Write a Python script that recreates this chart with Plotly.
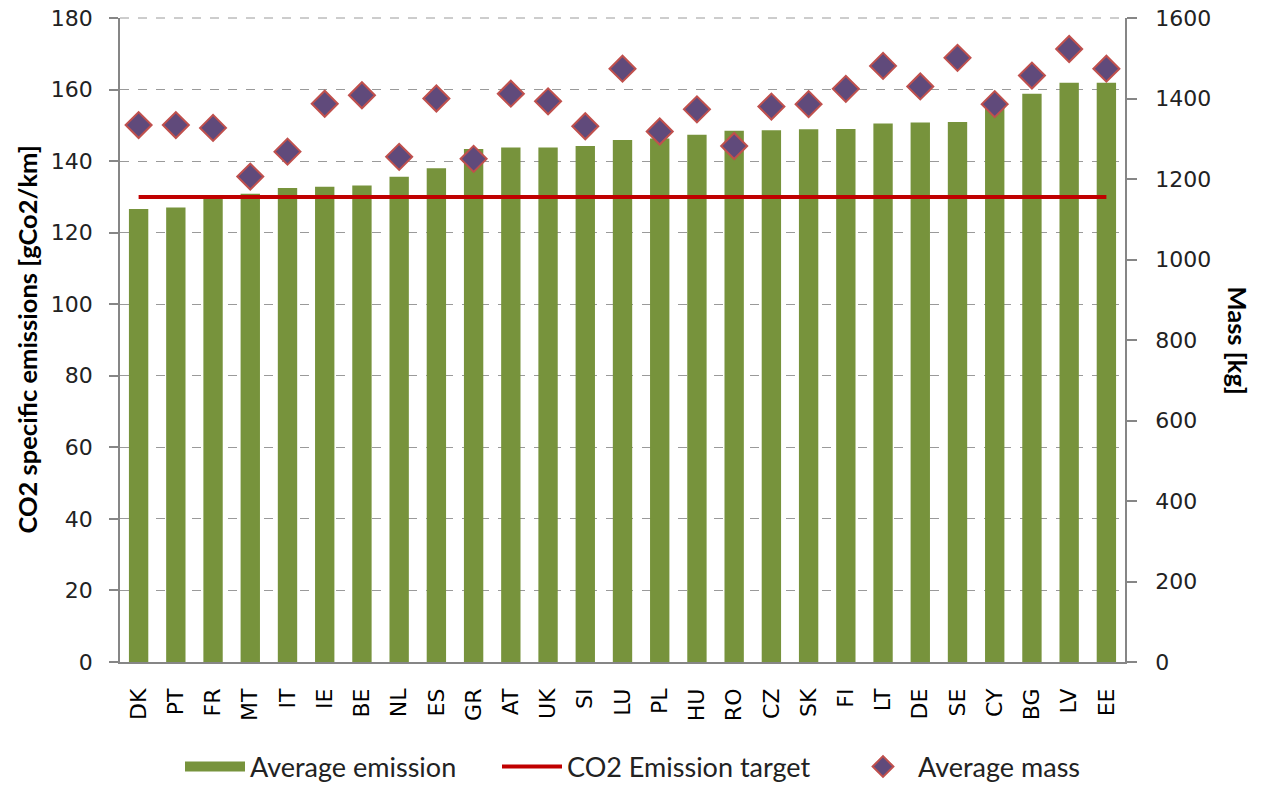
import plotly.graph_objects as go

countries = ["DK", "PT", "FR", "MT", "IT", "IE", "BE", "NL", "ES", "GR", "AT", "UK", "SI", "LU",
             "PL", "HU", "RO", "CZ", "SK", "FI", "LT", "DE", "SE", "CY", "BG", "LV", "EE"]
avg_emission = [126.6, 127.0, 129.6, 130.9, 132.5, 132.8, 133.2, 135.6, 138.0, 143.4, 143.8, 143.8,
                144.2, 145.9, 146.3, 147.4, 148.5, 148.6, 148.9, 149.0, 150.5, 150.8, 150.9, 155.8,
                158.8, 161.9, 161.9]
avg_mass = [1334, 1334, 1327, 1206, 1268, 1387, 1408, 1255, 1400, 1250, 1412, 1393, 1331, 1474,
            1318, 1373, 1282, 1380, 1386, 1424, 1481, 1430, 1501, 1386, 1457, 1523, 1474]
target = 130
target_line = [target for _ in countries]

left_ticks = list(range(0, 181, 20))
right_ticks = list(range(0, 1601, 200))

GREEN = "#77933C"
RED = "#C00000"
PURPLE = "#604A7B"
EDGE = "#C0504D"
AXIS = "#868686"
GRID = "#9A9A9A"
FONT = "DejaVu Sans"
LFONT = "Lato"

fig = go.Figure()
fig.add_trace(go.Bar(x=countries, y=avg_emission, name="Average emission", showlegend=False,
                     marker=dict(color=GREEN, line=dict(width=0)), width=0.52))
# legend swatch for the bars (legend only)
fig.add_trace(go.Scatter(x=[None], y=[None], name="Average emission", mode="lines",
                         line=dict(color=GREEN, width=14), legend="legend"))
fig.add_trace(go.Scatter(x=countries, y=target_line, name="CO2 Emission target", mode="lines",
                         line=dict(color=RED, width=4), legend="legend2"))
fig.add_trace(go.Scatter(x=countries, y=avg_mass, name="Average mass", mode="markers", yaxis="y2",
                         marker=dict(symbol="diamond", size=20, color=PURPLE,
                                     line=dict(color=EDGE, width=2)), legend="legend3"))

legend_common = dict(orientation="h", yanchor="middle", y=-0.163, xanchor="left",
                     font=dict(family=LFONT, size=27, color="#222"), bgcolor="rgba(0,0,0,0)",
                     itemwidth=60)

fig.update_layout(
    width=1265, height=787,
    margin=dict(l=120, r=140, t=18, b=125, autoexpand=False),
    paper_bgcolor="white", plot_bgcolor="white",
    showlegend=True,
    legend=dict(legend_common, x=(180 - 120) / 1005),
    legend2=dict(legend_common, x=(497 - 120) / 1005),
    legend3=dict(legend_common, x=(848 - 120) / 1005),
    xaxis=dict(type="category", showline=True, linecolor=AXIS, linewidth=1.5, ticks="",
               tickangle=-90, tickfont=dict(family=FONT, size=22, color="black"),
               ticklabelstandoff=16,
               showgrid=False, zeroline=False, range=[-0.5, 26.5], automargin=False),
    yaxis=dict(range=[0, 180], tickvals=left_ticks, showline=True, linecolor=AXIS, linewidth=1.5,
               ticks="outside", ticklen=9, tickcolor=AXIS, tickwidth=1.5, ticklabelstandoff=12,
               ticklabeloverflow="allow",
               tickfont=dict(family=FONT, size=22, color="#222"), automargin=False,
               showgrid=True, gridcolor=GRID, griddash="dash", gridwidth=1, zeroline=False),
    yaxis2=dict(range=[0, 1600], tickvals=right_ticks, overlaying="y", side="right",
                showline=True, linecolor=AXIS, linewidth=1.5, ticks="outside", ticklen=10,
                tickcolor=AXIS, tickwidth=1.5, ticklabelstandoff=14, ticklabeloverflow="allow",
                tickfont=dict(family=FONT, size=22, color="#222"),
                showgrid=False, zeroline=False, automargin=False),
    shapes=[dict(type="line", xref="paper", yref="paper", x0=0, x1=1, y0=1, y1=1, layer="below",
                 line=dict(color=GRID, width=1, dash="dash"))],
    annotations=[
        dict(text="<b>CO2 specific emissions [gCo2/km]</b>", xref="paper", yref="paper",
             x=-0.093, y=0.5, xanchor="center", yanchor="middle", textangle=-90, showarrow=False,
             font=dict(family=LFONT, size=25.5, color="black")),
        dict(text="<b>Mass [kg]</b>", xref="paper", yref="paper",
             x=1.112, y=0.5, xanchor="center", yanchor="middle", textangle=90, showarrow=False,
             font=dict(family=LFONT, size=25.5, color="black")),
    ],
)

fig.write_html("out.html", config={"displayModeBar": False},
               post_script="document.body.style.margin='0';")
